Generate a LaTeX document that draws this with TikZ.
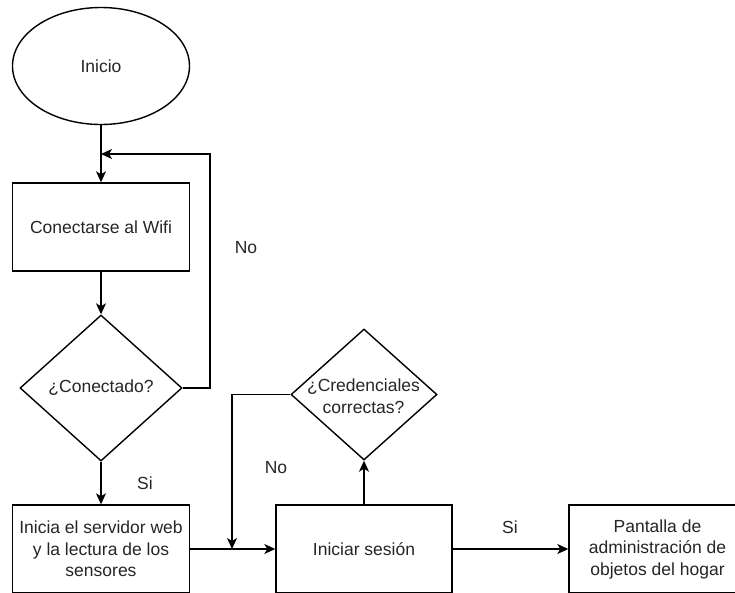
\documentclass[tikz,border=0pt]{standalone}
\usepackage{fontspec}
\setmainfont{Liberation Sans}
\usetikzlibrary{shapes.geometric,arrows.meta}
\begin{document}
\begin{tikzpicture}[x=1pt,y=-1pt,
  every node/.style={font=\fontsize{17.5}{21.5}\selectfont, text=black!85},
  box/.style={draw, line width=1.4pt, rectangle, minimum width=177pt, minimum height=88pt, inner sep=0pt, align=center},
  oval/.style={draw, line width=1.4pt, ellipse, minimum width=177pt, minimum height=117pt, inner sep=0pt},
  dia/.style={draw, line width=1.4pt, diamond, inner sep=0pt},
  conn/.style={line width=1.4pt, -{Stealth[length=11pt,width=10pt,inset=3pt]}},
  lbl/.style={inner sep=0pt}
]
\useasboundingbox (0,0) rectangle (735,592);
\clip (0,0) rectangle (735,592);
\fill[white] (0,0) rectangle (735,592);

% nodes
\node[oval] (inicio) at (101,66) {Inicio};
\node[box] (wifi) at (101,227) {Conectarse al Wifi};
\node[dia, minimum width=162pt, minimum height=146pt] (con) at (101,388) {};
\node[lbl] (contxt) at (con) {¿Conectado?};
\node[box] (serv) at (101,549) {Inicia el servidor web\\y la lectura de los\\sensores};
\node[box, minimum width=176pt] (ses) at (364,549) {Iniciar sesión};
\node[dia, minimum width=146pt, minimum height=131pt] (cred) at (364,394.5) {};
\node[lbl, align=center] (credtxt) at (363.5,396) {¿Credenciales\\correctas?};
\node[box] (pant) at (657.5,549) {Pantalla de\\administración de\\objetos del hogar};

% junction points
\coordinate (j1) at (101,154);
\coordinate (c1) at (210,388);
\coordinate (c2) at (210,154);
\coordinate (j2) at (232,549);
\coordinate (c3) at (232,394.5);

% connectors
\draw[conn] (inicio.south) -- (wifi.north);
\draw[conn] (con.east) -- (c1) -- (c2) -- (j1);
\draw[conn] (wifi.south) -- (con.north);
\draw[conn] (con.south) -- (serv.north);
\draw[conn] (serv.east) -- (ses.west);
\draw[conn] (cred.west) -- (c3) -- (j2);
\draw[conn] (ses.north) -- (cred.south);
\draw[conn] (ses.east) -- (pant.west);

% labels
\node[lbl] (no1) at (246,248) {No};
\node[lbl] (si1) at (145,483) {Si};
\node[lbl] (no2) at (276,468) {No};
\node[lbl] (si2) at (510,527) {Si};
\end{tikzpicture}
\end{document}
